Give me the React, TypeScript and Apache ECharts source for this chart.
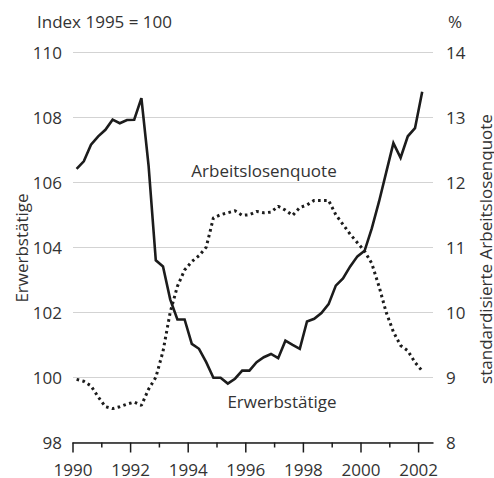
import React, { useEffect, useRef } from "react";
import * as echarts from "echarts";

// Quarterly observations, 1990 Q1 .. 2002 Q1
const quarters: string[] = [];
for (let y = 1990; y <= 2002; y++) {
  for (let q = 1; q <= 4; q++) {
    if (y === 2002 && q > 1) break;
    quarters.push(`${y}-Q${q}`);
  }
}

// Erwerbstätige, Index 1995 = 100 (left axis, solid line)
const erwerbstaetige = [
  106.41, 106.64, 107.15, 107.41, 107.61, 107.92, 107.81, 107.91, 107.92, 108.58,
  106.5, 103.6, 103.41, 102.4, 101.78, 101.78, 101.03, 100.88, 100.47, 99.99,
  99.99, 99.81, 99.96, 100.21, 100.21, 100.47, 100.62, 100.72, 100.59, 101.13,
  101.0, 100.88, 101.72, 101.8, 101.98, 102.25, 102.82, 103.04, 103.41, 103.72,
  103.89, 104.58, 105.4, 106.3, 107.2, 106.75, 107.41, 107.66, 108.78,
];

// standardisierte Arbeitslosenquote, % (right axis, dotted line)
const arbeitslosenquote = [
  8.97, 8.94, 8.87, 8.7, 8.55, 8.52, 8.55, 8.59, 8.62, 8.57,
  8.82, 9.0, 9.4, 10.0, 10.4, 10.65, 10.78, 10.87, 11.0, 11.45,
  11.5, 11.53, 11.56, 11.49, 11.5, 11.55, 11.53, 11.54, 11.63, 11.57,
  11.49, 11.61, 11.65, 11.72, 11.72, 11.72, 11.5, 11.35, 11.2, 11.07,
  10.94, 10.75, 10.4, 10.0, 9.7, 9.49, 9.41, 9.23, 9.1,
];

const tickYears = [1990, 1991, 1992, 1993, 1994, 1995, 1996, 1997, 1998, 1999, 2000, 2001, 2002];
const labelYears = [1990, 1992, 1994, 1996, 1998, 2000, 2002];

const leftTicks = { min: 98, max: 110, interval: 2 };
const rightTicks = { min: 8, max: 14, interval: 1 };

const FONT = "'Open Sans', 'Noto Sans', sans-serif";
const FS = 17;
const LH = 14;
const TEXT = "#333333";
const INK = "#1c1c1c";

function quarterPos(q: string): number {
  const [y, qq] = q.split("-Q");
  return Number(y) + (Number(qq) - 1) * 0.25 + 0.125;
}

function label(text: string, x: number, y: number, align: string, rotation = 0) {
  return {
    type: "text",
    x,
    y,
    rotation,
    style: {
      text,
      fill: TEXT,
      font: `${FS}px ${FONT}`,
      lineHeight: LH,
      align,
      verticalAlign: "middle",
      textAlign: align,
      textVerticalAlign: "middle",
    },
  };
}

export default function App() {
  const ref = useRef<HTMLDivElement>(null);

  useEffect(() => {
    if (!ref.current) return;
    const chart = echarts.init(ref.current, undefined, { renderer: "svg" });

    const solidData = quarters.map((q, i) => [quarterPos(q), erwerbstaetige[i]]);
    const dottedData = quarters.map((q, i) => [quarterPos(q), arbeitslosenquote[i]]);

    chart.setOption({
      animation: false,
      backgroundColor: "#ffffff",
      textStyle: { fontFamily: FONT },
      grid: { left: 73, right: 61, top: 52, bottom: 34, containLabel: false },
      xAxis: {
        type: "value",
        min: 1990,
        max: 2002.5,
        interval: 1,
        axisLine: { show: true, onZero: false, lineStyle: { color: INK, width: 1.5 } },
        axisTick: { show: false },
        splitLine: { show: false },
        axisLabel: {
          show: true,
          margin: 20,
          fontSize: FS,
          lineHeight: LH,
          color: TEXT,
          fontFamily: FONT,
          showMaxLabel: false,
          formatter: (v: number) => (labelYears.includes(v) ? String(v) : ""),
        },
      },
      yAxis: [
        {
          type: "value",
          position: "left",
          min: leftTicks.min,
          max: leftTicks.max,
          interval: leftTicks.interval,
          axisLine: { show: false },
          axisTick: { show: false },
          splitLine: { show: true, lineStyle: { color: "#d3d3d3", width: 1 } },
          axisLabel: { margin: 11, fontSize: FS, lineHeight: LH, color: TEXT, fontFamily: FONT },
        },
        {
          type: "value",
          position: "right",
          min: rightTicks.min,
          max: rightTicks.max,
          interval: rightTicks.interval,
          axisLine: { show: false },
          axisTick: { show: false },
          splitLine: { show: false },
          axisLabel: { margin: 13, fontSize: FS, lineHeight: LH, color: TEXT, fontFamily: FONT },
        },
      ],
      series: [
        {
          type: "custom",
          name: "ticks",
          xAxisIndex: 0,
          yAxisIndex: 0,
          clip: false,
          silent: true,
          data: tickYears.map((y) => [y, leftTicks.min]),
          renderItem: (params: any, api: any) => {
            const year = api.value(0);
            const p = api.coord([year, api.value(1)]);
            const len = year % 2 === 0 ? 10 : 5;
            return {
              type: "line",
              shape: { x1: p[0], y1: p[1], x2: p[0], y2: p[1] + len },
              style: { stroke: INK, lineWidth: 1.5 },
            };
          },
        },
        {
          type: "line",
          name: "Erwerbstätige",
          yAxisIndex: 0,
          data: solidData,
          showSymbol: false,
          symbol: "none",
          lineStyle: { color: INK, width: 2.6, join: "miter" },
        },
        {
          type: "line",
          name: "Arbeitslosenquote",
          yAxisIndex: 1,
          data: dottedData,
          showSymbol: false,
          symbol: "none",
          lineStyle: { color: INK, width: 3, type: [2.6, 3.4] },
        },
      ],
      graphic: [
        label("Index 1995 = 100", 37, 21, "left"),
        label("%", 448, 21, "left"),
        label("Erwerbstätige", 21, 248, "center", Math.PI / 2),
        label("standardisierte Arbeitslosenquote", 485, 249, "center", Math.PI / 2),
        label("Arbeitslosenquote", 264, 170, "center"),
        label("Erwerbstätige", 282, 401, "center"),
      ],
    });

    return () => chart.dispose();
  }, []);

  return (
    <div
      ref={ref}
      style={{ position: "fixed", left: 0, top: 0, width: 494, height: 478 }}
    />
  );
}
